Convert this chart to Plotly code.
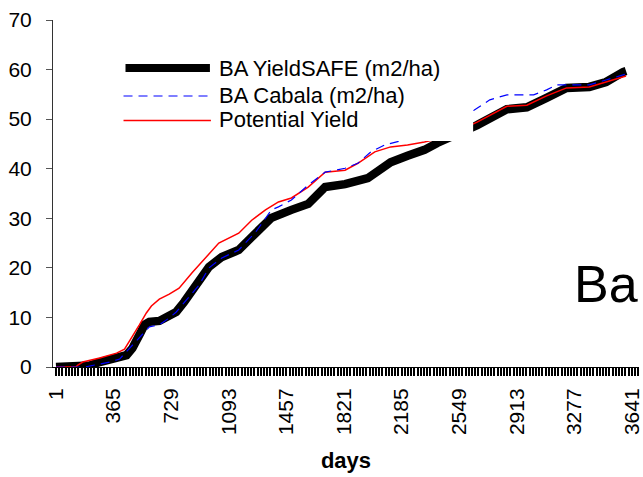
import plotly.graph_objects as go

# ---------------- data ----------------
yieldsafe_days = [1, 152, 214, 277, 340, 403, 447, 484, 509, 535, 560, 591, 654, 717, 761, 811, 855, 905,
                  968, 1049, 1156, 1263, 1363, 1489, 1595, 1702, 1828, 1972, 2116, 2223, 2330, 2411, 2537,
                  2663, 2851, 2977, 3102, 3228, 3372, 3478, 3585, 3604]
yieldsafe_ba = [0, 0, 0.3, 1.0, 1.4, 2.0, 2.4, 3.8, 5.0, 6.9, 8.5, 9.1, 9.3, 10.3, 11.1, 13.1, 15.1, 16.9,
                20.2, 22.2, 23.6, 27.0, 30.1, 31.7, 32.9, 36.3, 36.9, 38.1, 41.3, 42.6, 43.8, 45.2, 47.0,
                48.8, 52.0, 52.4, 54.3, 56.3, 56.5, 57.5, 59.5, 59.7]

cabala_days = [1, 183, 245, 340, 403, 466, 509, 560, 591, 654, 717, 761, 842, 905, 968, 1049, 1156, 1263,
               1363, 1407, 1489, 1595, 1702, 1828, 1909, 1991, 2079, 2204, 2411, 2537, 2643, 2743, 2851,
               3020, 3102, 3165, 3372, 3478, 3585, 3604]
cabala_ba = [0, 0, 0.4, 1.0, 1.6, 3.8, 5.4, 7.1, 8.1, 8.5, 9.9, 11.1, 14.1, 16.5, 20.0, 22.0, 23.6, 27.2,
             31.7, 32.3, 33.7, 36.7, 39.3, 40.1, 41.1, 43.4, 44.8, 45.8, 48.2, 50.2, 51.8, 53.9, 54.9,
             54.9, 55.9, 56.9, 56.9, 57.9, 58.9, 59.1]

potential_days = [1, 127, 139, 170, 277, 384, 434, 466, 497, 528, 572, 604, 654, 717, 779, 861, 949, 1030,
                  1156, 1238, 1325, 1407, 1489, 1595, 1702, 1828, 1909, 2016, 2116, 2223, 2330, 2411, 2537,
                  2663, 2851, 2977, 3102, 3228, 3372, 3478, 3585, 3604]
potential_yield = [0, 0, 0.4, 1.0, 1.8, 2.8, 3.6, 5.4, 6.9, 8.5, 10.9, 12.3, 13.7, 14.7, 15.9, 19.0, 22.2,
                   25.0, 27.0, 29.6, 31.7, 33.3, 34.1, 36.3, 39.3, 39.7, 41.1, 43.4, 44.4, 44.8, 45.4, 46.0,
                   47.6, 49.4, 52.6, 52.8, 54.7, 56.3, 56.5, 57.5, 58.5, 58.7]

x_tick_labels = [1, 365, 729, 1093, 1457, 1821, 2185, 2549, 2913, 3277, 3641]
y_tick_labels = [0, 10, 20, 30, 40, 50, 60, 70]

series_names = ["BA YieldSAFE (m2/ha)", "BA Cabala (m2/ha)", "Potential Yield"]

# ---------------- layout geometry ----------------
W, H = 643, 477
L, R, T, B = 53, 0, 20, 110
PW, PH = W - L - R, H - T - B
FONT = "Liberation Sans, Arial, sans-serif"


def px(x):
    return (x - L) / PW


def py(y):
    return (H - B - y) / PH


fig = go.Figure()
fig.add_trace(go.Scatter(x=yieldsafe_days, y=yieldsafe_ba, mode="lines", name=series_names[0],
                         line=dict(color="black", width=8.5), showlegend=False))
fig.add_trace(go.Scatter(x=potential_days, y=potential_yield, mode="lines", name=series_names[2],
                         line=dict(color="#ff0000", width=1.5), showlegend=False))
fig.add_trace(go.Scatter(x=cabala_days, y=cabala_ba, mode="lines", name=series_names[1],
                         line=dict(color="#0000ff", width=1.2, dash="9px,6px"), showlegend=False))

shapes = [
    # white legend box (covers the curves beneath it, as in the original)
    dict(type="rect", xref="paper", yref="paper", x0=px(110), x1=px(476), y0=py(141), y1=py(55),
         fillcolor="white", line=dict(width=0), layer="above"),
    dict(type="line", xref="paper", yref="paper", x0=px(126), x1=px(211), y0=py(68), y1=py(68),
         line=dict(color="black", width=8), layer="above"),
    dict(type="line", xref="paper", yref="paper", x0=px(124), x1=px(212), y0=py(96), y1=py(96),
         line=dict(color="#0000ff", width=1.2, dash="9px,6px"), layer="above"),
    dict(type="line", xref="paper", yref="paper", x0=px(124), x1=px(212), y0=py(120.5), y1=py(120.5),
         line=dict(color="#ff0000", width=1.5), layer="above"),
]
annotations = []
for name, yy in zip(series_names, [68, 96, 120]):
    annotations.append(dict(text=name, xref="paper", yref="paper", x=px(218), y=py(yy),
                            xanchor="left", yanchor="middle", showarrow=False,
                            font=dict(family=FONT, size=22, color="black", weight="normal")))
annotations.append(dict(text="Ba", xref="paper", yref="paper", x=px(576), y=py(284),
                        xanchor="left", yanchor="middle", showarrow=False,
                        font=dict(family=FONT, size=52, color="black", weight="normal")))

fig.update_layout(
    width=W, height=H,
    margin=dict(l=L, r=R, t=T, b=B, pad=0),
    paper_bgcolor="white", plot_bgcolor="white",
    font=dict(family=FONT, size=21, color="black"),
    shapes=shapes, annotations=annotations,
    showlegend=False,
)
fig.update_xaxes(
    range=[-18, 3686], tickmode="array", tickvals=x_tick_labels,
    ticktext=[str(v) for v in x_tick_labels], tickangle=-90,
    showline=True, linecolor="black", linewidth=1,
    ticks="outside", ticklen=8, tickwidth=2, tickcolor="black",
    minor=dict(ticks="outside", ticklen=8, tickwidth=2, tickcolor="black",
               tickmode="linear", tick0=1, dtick=364 / 18, showgrid=False),
    showgrid=False, zeroline=False, ticklabelstandoff=4, ticklabeloverflow="allow",
    tickfont=dict(family=FONT, size=21, weight="normal", color="black"),
    title=dict(text="days", font=dict(family=FONT, size=22, weight="bold"), standoff=18),
)
fig.update_yaxes(
    range=[0, 70], tickmode="array", tickvals=y_tick_labels,
    showline=True, linecolor="#333333", linewidth=1,
    ticks="outside", ticklen=6, tickwidth=1, tickcolor="#555555",
    showgrid=False, zeroline=False, ticklabelstandoff=10,
    tickfont=dict(family=FONT, size=21, weight="normal", color="black"),
)

fig.write_html("out.html")
